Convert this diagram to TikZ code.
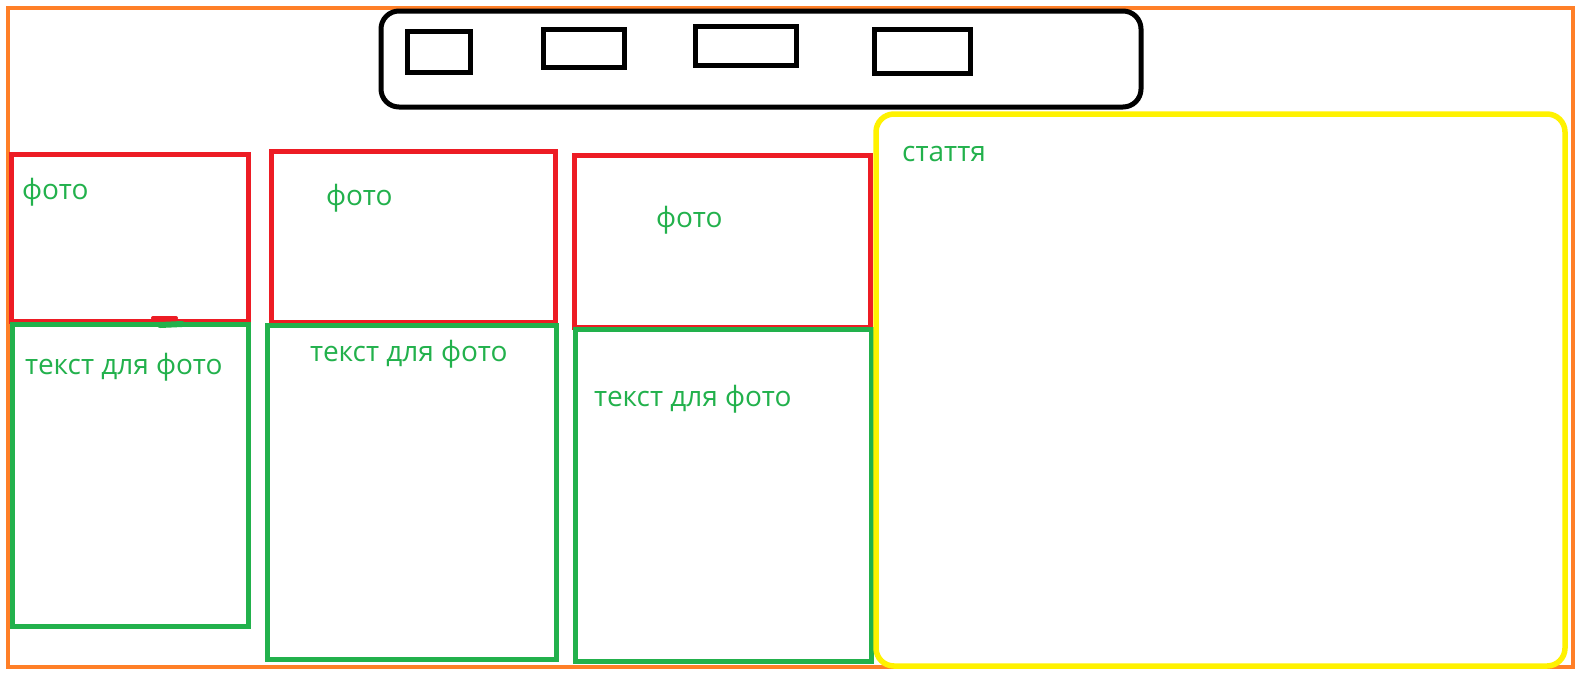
\documentclass[tikz,border=0pt]{standalone}
\usepackage{fontspec}
\setmainfont{Open Sans}
\definecolor{pOrange}{RGB}{255,127,39}
\definecolor{pRed}{RGB}{237,28,36}
\definecolor{pGreen}{RGB}{34,177,76}
\definecolor{pYellow}{RGB}{255,242,0}
\begin{document}
\begin{tikzpicture}[x=1pt, y=-1pt,
    frame/.style={draw=pOrange, line width=4.5pt},
    navbar/.style={draw=black, line width=5pt, rounded corners=18pt},
    navbtn/.style={draw=black, line width=5pt},
    photobox/.style={draw=pRed, line width=5pt},
    textbox/.style={draw=pGreen, line width=5pt},
    article/.style={draw=pYellow, line width=5.5pt, rounded corners=18pt},
    lbl/.style={text=pGreen, font=\fontsize{28}{32}\selectfont, inner sep=0, anchor=west}]
            \useasboundingbox (0,0) rectangle (1584,673);
            \fill[white] (0,0) rectangle (1584,673);
            \draw[frame] (8,8) rectangle (1573,667);
            % top menu
            \draw[navbar] (381,11) rectangle (1141,107);
            \draw[navbtn] (407,31) rectangle (470,72);
            \draw[navbtn] (543,29) rectangle (624,67);
            \draw[navbtn] (695,26) rectangle (796,65);
            \draw[navbtn] (874,29) rectangle (970,73);
            % photos and captions
            \draw[photobox] (11,154) rectangle (248,321);
            \draw[textbox] (12,324) rectangle (248,626);
            \draw[photobox] (271,151) rectangle (555,322);
            \draw[textbox] (267,325) rectangle (556,659);
            \draw[photobox] (574,155) rectangle (870,327);
            \draw[textbox] (575,329) rectangle (871,661);
            \draw[pRed, line width=4pt, line cap=round] (153,318) -- (176,318);
            \draw[pGreen, line width=6pt, line cap=round] (160,325) -- (182,324);
            % article
            \draw[article] (876,114) rectangle (1565,666);
            \node[lbl] (foto1) at (22,192) {фото};
            \node[lbl] (foto2) at (326,198) {фото};
            \node[lbl] (foto3) at (656,220) {фото};
            \node[lbl] (cap1) at (25,367) {текст для фото};
            \node[lbl] (cap2) at (310,354) {текст для фото};
            \node[lbl] (cap3) at (594,399) {текст для фото};
            \node[lbl] (stattia) at (902,154) {стаття};
        \end{tikzpicture}
\end{document}
